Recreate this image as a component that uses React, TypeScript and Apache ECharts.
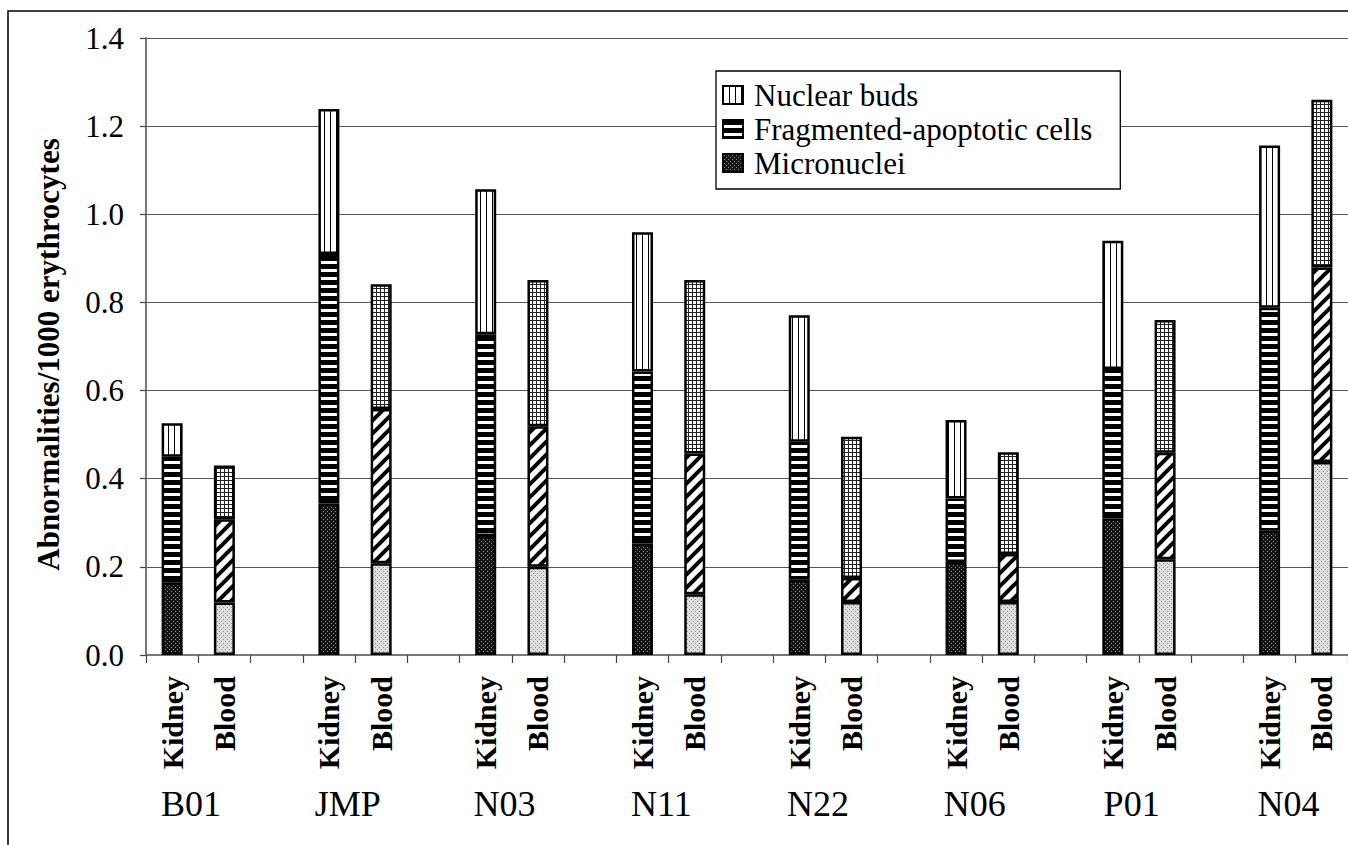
import React, { useEffect, useRef } from 'react';
import * as echarts from 'echarts';

const sites = ['B01', 'JMP', 'N03', 'N11', 'N22', 'N06', 'P01', 'N04'];
const tissues = ['Kidney', 'Blood'];
const seriesNames = ['Micronuclei', 'Fragmented-apoptotic cells', 'Nuclear buds'];

const microKidney = [0.164, 0.344, 0.270, 0.253, 0.171, 0.211, 0.310, 0.282];
const microBlood = [0.119, 0.208, 0.200, 0.138, 0.120, 0.120, 0.217, 0.438];
const fragKidney = [0.286, 0.566, 0.458, 0.390, 0.313, 0.144, 0.339, 0.506];
const fragBlood = [0.189, 0.350, 0.319, 0.319, 0.055, 0.109, 0.242, 0.441];
const budsKidney = [0.076, 0.329, 0.329, 0.316, 0.287, 0.178, 0.291, 0.368];
const budsBlood = [0.122, 0.283, 0.332, 0.394, 0.320, 0.231, 0.301, 0.381];

const yMin = 0;
const yMax = 1.4;
const yStep = 0.2;

const FONT = "'Liberation Serif', 'Times New Roman', serif";

function makePattern(w: number, h: number, draw: (ctx: CanvasRenderingContext2D) => void) {
  const c = document.createElement('canvas');
  c.width = w;
  c.height = h;
  const ctx = c.getContext('2d') as CanvasRenderingContext2D;
  draw(ctx);
  return { image: c.toDataURL(), repeat: 'repeat', imageWidth: w, imageHeight: h };
}

function buildPatterns() {
  const kidneyMicro = makePattern(4, 4, (ctx) => {
    ctx.fillStyle = '#151515';
    ctx.fillRect(0, 0, 4, 4);
    ctx.fillStyle = '#8a8a8a';
    ctx.fillRect(1, 1, 1, 1);
    ctx.fillRect(3, 3, 1, 1);
  });
  const bloodMicro = makePattern(4, 4, (ctx) => {
    ctx.fillStyle = '#dedede';
    ctx.fillRect(0, 0, 4, 4);
    ctx.fillStyle = '#8c8c8c';
    ctx.fillRect(1, 1, 1, 1);
    ctx.fillRect(3, 3, 1, 1);
  });
  const kidneyFrag = makePattern(4, 8, (ctx) => {
    ctx.fillStyle = '#ffffff';
    ctx.fillRect(0, 0, 4, 8);
    ctx.fillStyle = '#000000';
    ctx.fillRect(0, 0, 4, 5);
  });
  const kidneyBuds = makePattern(6, 4, (ctx) => {
    ctx.fillStyle = '#ffffff';
    ctx.fillRect(0, 0, 6, 4);
    ctx.fillStyle = '#000000';
    ctx.fillRect(0, 0, 1, 4);
  });
  const bloodFrag = makePattern(13, 13, (ctx) => {
    ctx.fillStyle = '#ffffff';
    ctx.fillRect(0, 0, 13, 13);
    ctx.strokeStyle = '#000000';
    ctx.lineWidth = 4;
    for (let k = -1; k <= 1; k++) {
      ctx.beginPath();
      ctx.moveTo(k * 13 - 2, 13 + 2);
      ctx.lineTo(k * 13 + 13 + 2, -2);
      ctx.stroke();
    }
  });
  const bloodBuds = makePattern(4, 4, (ctx) => {
    ctx.fillStyle = '#ffffff';
    ctx.fillRect(0, 0, 4, 4);
    ctx.fillStyle = '#222222';
    ctx.fillRect(0, 0, 4, 1);
    ctx.fillRect(0, 0, 1, 4);
  });
  return {
    kidney: [kidneyMicro, kidneyFrag, kidneyBuds],
    blood: [bloodMicro, bloodFrag, bloodBuds],
  };
}

export default function App() {
  const ref = useRef<HTMLDivElement>(null);

  useEffect(() => {
    if (!ref.current) return;
    const chart = echarts.init(ref.current, null, { renderer: 'svg' });
    const pats = buildPatterns();

    const categories: string[] = [];
    sites.forEach((s, i) => {
      tissues.forEach((t) => categories.push(s + '|' + t));
      if (i < sites.length - 1) categories.push(s + '|gap');
    });

    const values = [
      [microKidney, microBlood],
      [fragKidney, fragBlood],
      [budsKidney, budsBlood],
    ];

    const series = seriesNames.map((name, si) => {
      const data: any[] = [];
      sites.forEach((s, i) => {
        data.push({ value: values[si][0][i] });
        data.push({ value: values[si][1][i], itemStyle: { color: pats.blood[si] } });
        if (i < sites.length - 1) data.push('-');
      });
      return {
        name,
        type: 'bar',
        stack: 'total',
        barWidth: 21,
        data,
        itemStyle: { color: pats.kidney[si], borderColor: '#000', borderWidth: 2.5 },
        emphasis: { disabled: true },
      };
    });

    chart.setOption({
      animation: false,
      backgroundColor: '#fff',
      grid: { left: 146, right: -8, top: 38, bottom: 190, containLabel: false },
      legend: {
        orient: 'vertical',
        left: 716,
        top: 71,
        data: [seriesNames[2], seriesNames[1], seriesNames[0]],
        icon: 'rect',
        itemWidth: 20,
        itemHeight: 18,
        itemGap: 0,
        padding: [7, 28, 9, 6],
        borderColor: '#000',
        borderWidth: 1.3,
        backgroundColor: '#fff',
        selectedMode: false,
        textStyle: {
          fontFamily: FONT,
          fontSize: 31,
          color: '#000',
          lineHeight: 34,
          padding: [0, 0, 0, 6],
        },
      },
      xAxis: {
        type: 'category',
        data: categories,
        axisLine: { lineStyle: { color: '#777', width: 2 } },
        axisTick: { show: true, length: 8, lineStyle: { color: '#444', width: 1.2 } },
        axisLabel: {
          interval: 0,
          rotate: 90,
          margin: 21,
          fontFamily: FONT,
          fontSize: 30,
          fontWeight: 'bold',
          color: '#000',
          formatter: (v: string) => {
            const t = v.split('|')[1];
            return t === 'gap' ? '' : t;
          },
        },
        splitLine: { show: false },
      },
      yAxis: {
        type: 'value',
        min: yMin,
        max: yMax,
        interval: yStep,
        name: 'Abnormalities/1000 erythrocytes',
        nameLocation: 'middle',
        nameGap: 82,
        nameTextStyle: {
          fontFamily: FONT,
          fontSize: 31,
          fontWeight: 'bold',
          color: '#000',
          padding: [0, 16, 0, 0],
        },
        axisLine: { show: true, lineStyle: { color: '#777', width: 2 } },
        axisTick: { show: true, inside: false, length: 6, lineStyle: { color: '#444', width: 1.2 } },
        axisLabel: {
          margin: 22,
          fontFamily: FONT,
          fontSize: 31,
          color: '#000',
          formatter: (v: number) => v.toFixed(1),
        },
        splitLine: { show: true, lineStyle: { color: '#555', width: 1.2 } },
      },
      series,
    });

    const groupLabels = sites.map((s) => {
      const kx = chart.convertToPixel({ xAxisIndex: 0 }, s + '|Kidney') as number;
      const bx = chart.convertToPixel({ xAxisIndex: 0 }, s + '|Blood') as number;
      return {
        type: 'text',
        x: kx + (bx - kx) * 0.36,
        y: 804,
        silent: true,
        style: {
          text: s,
          fontFamily: FONT,
          fontSize: 36,
          fill: '#000',
          align: 'center',
          verticalAlign: 'middle',
        },
      };
    });

    chart.setOption({
      graphic: [
        {
          type: 'rect',
          silent: true,
          shape: { x: 8, y: 11, width: 1400, height: 900 },
          style: { fill: 'none', stroke: '#000', lineWidth: 1.5 },
          z: 100,
        },
        ...groupLabels,
      ],
    });

    return () => chart.dispose();
  }, []);

  return (
    <div
      ref={ref}
      style={{ position: 'fixed', left: 0, top: 0, width: 1348, height: 845, background: '#fff' }}
    />
  );
}
